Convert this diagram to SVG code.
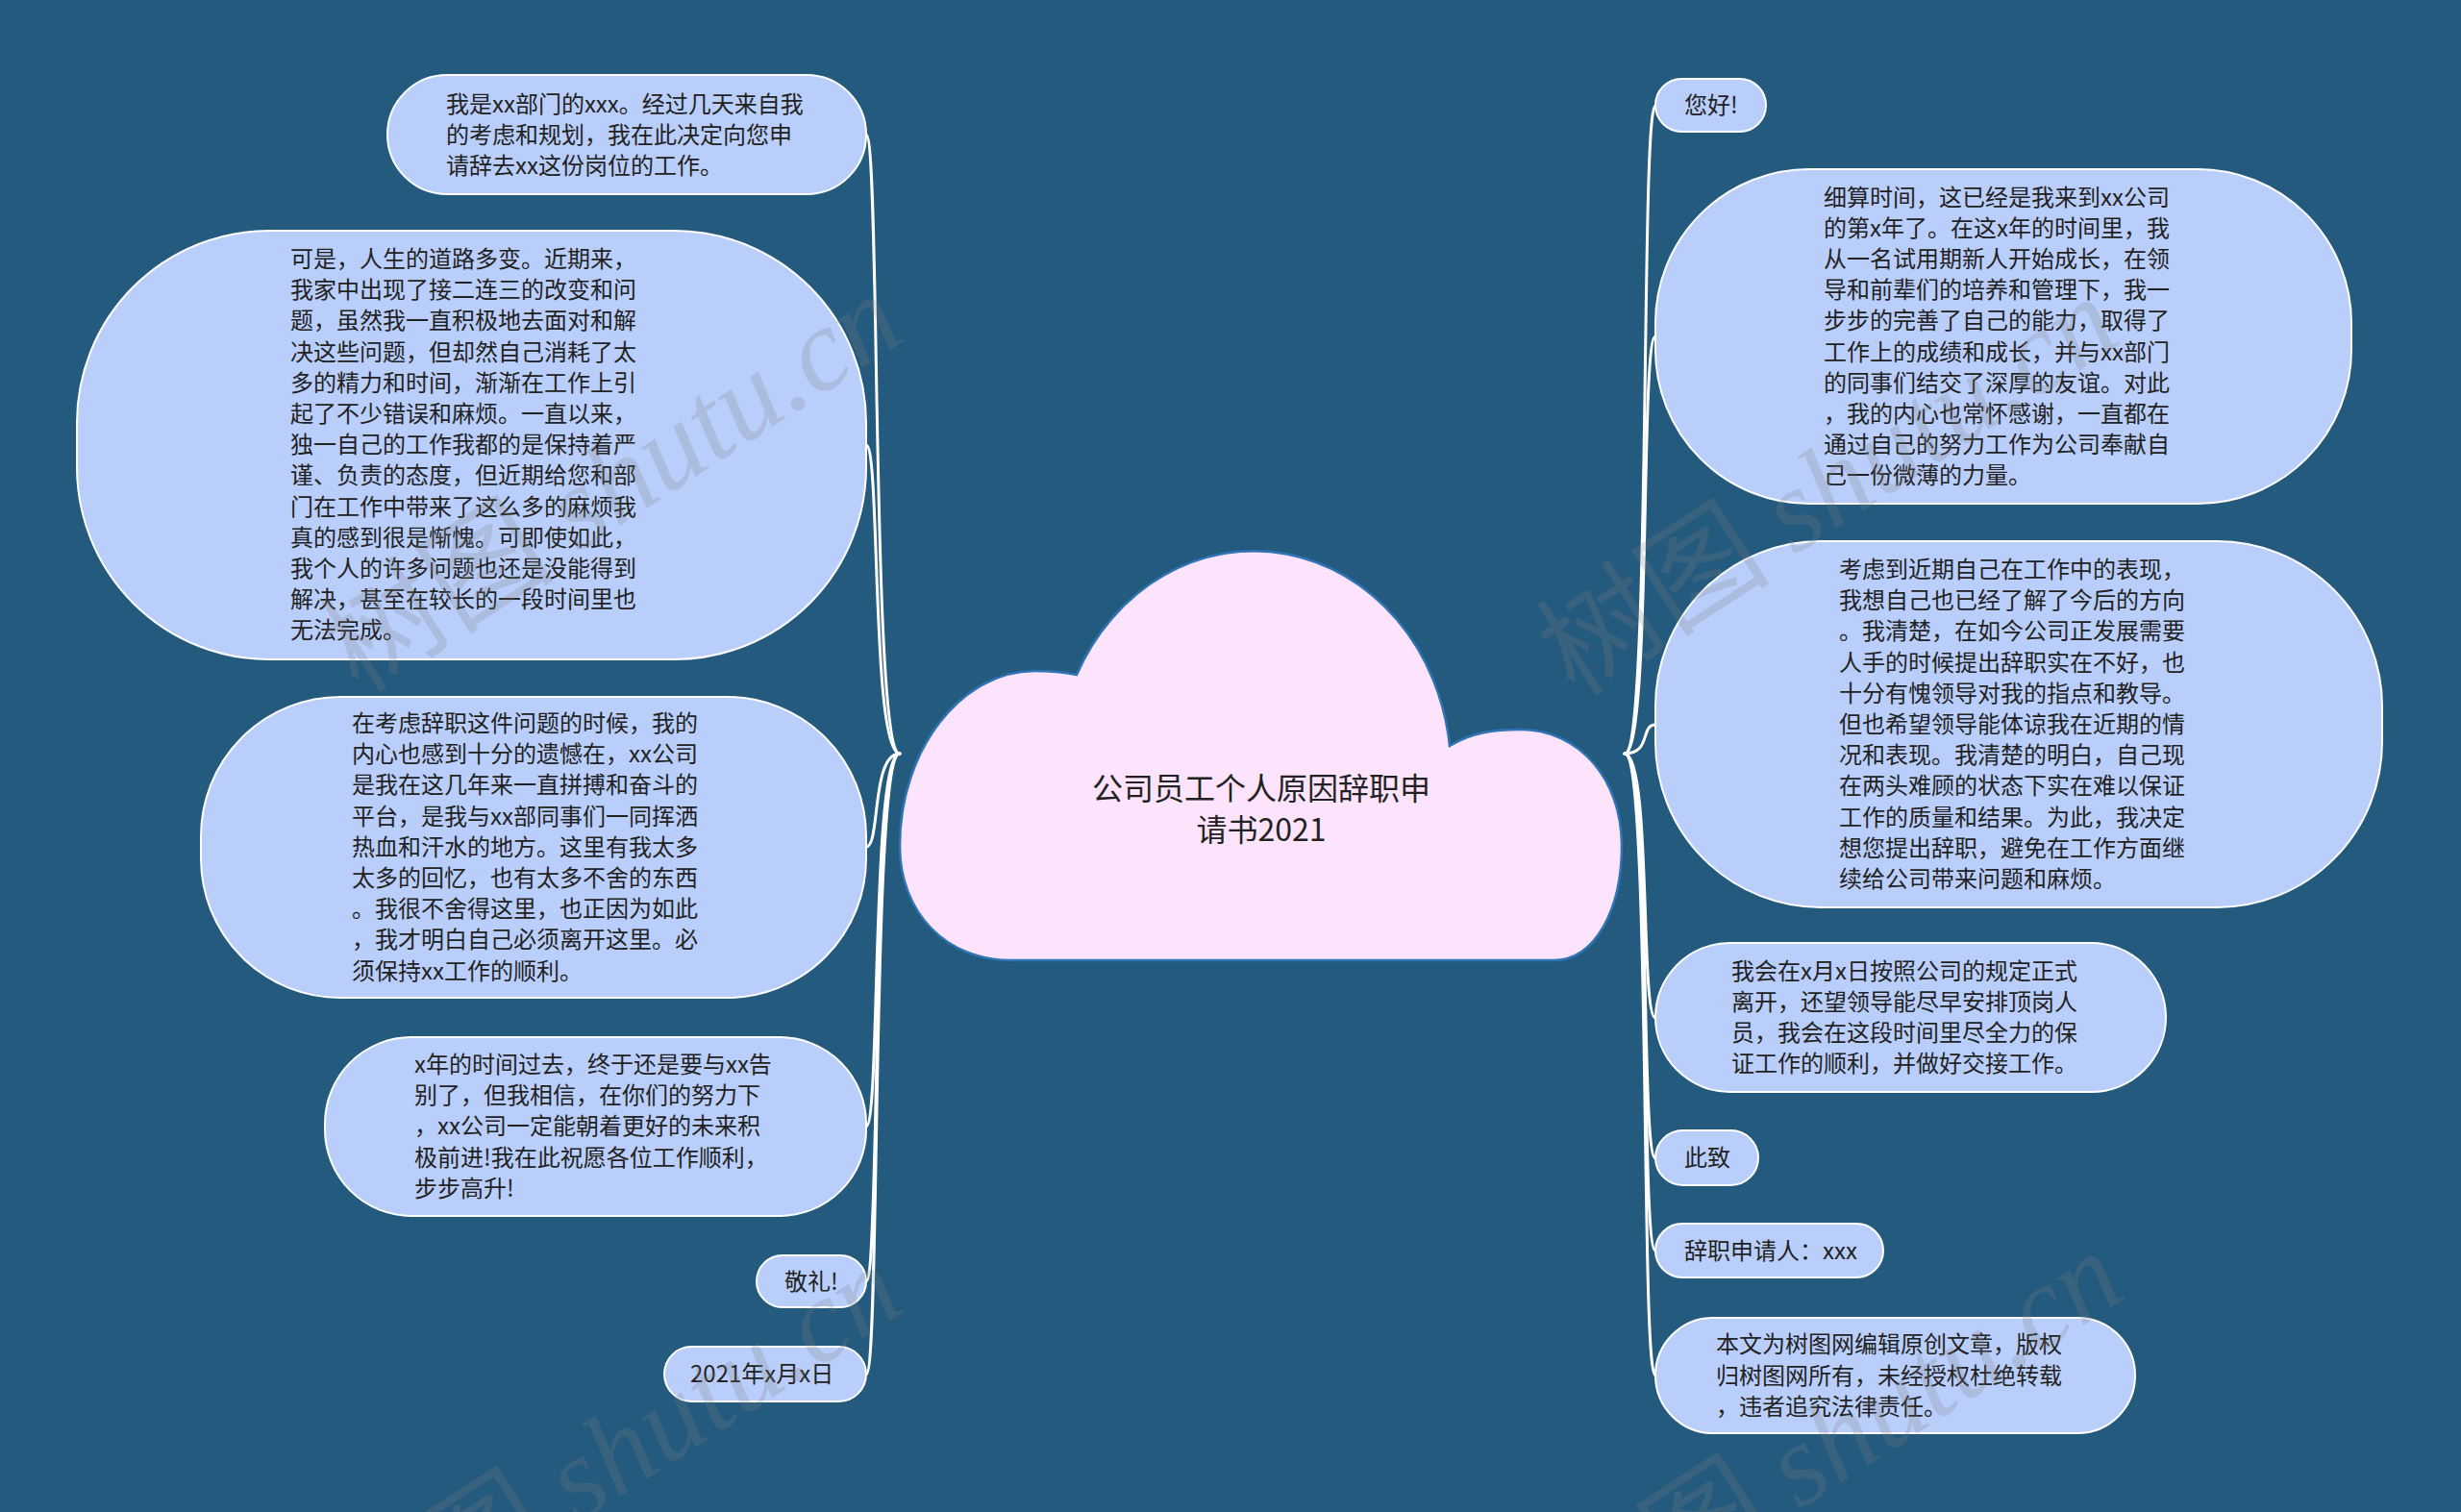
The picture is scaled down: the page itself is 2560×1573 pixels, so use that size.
<svg xmlns="http://www.w3.org/2000/svg" width="2560" height="1573" viewBox="0 0 2560 1573">
<style>
.bg{fill:#245a7d}
.node{fill:#b9cefa;stroke:#ffffff;stroke-width:2}
.t{font-family:"Noto Sans CJK SC","Liberation Sans",sans-serif;font-size:24px;fill:#222222}
.title{font-family:"Noto Sans CJK SC","Liberation Sans",sans-serif;font-size:32px;fill:#222222;text-anchor:middle}
.link{fill:none;stroke:#ffffff;stroke-width:3;stroke-linecap:round}
.wm{font-family:"Noto Sans CJK SC","Liberation Serif",serif;font-size:122px;fill:#808080;fill-opacity:0.22;text-anchor:end}
.wm tspan.l{font-family:"Liberation Serif",serif;font-style:italic}
</style>
<rect class="bg" x="0" y="0" width="2560" height="1573"/>

<g id="connectors">
<path class="link" d="M936,784 C906,784 916,140 901,140"/>
<path class="link" d="M936,784 C906,784 916,463 901,463"/>
<path class="link" d="M936,784 C906,784 916,881 901,881"/>
<path class="link" d="M936,784 C906,784 916,1172 901,1172"/>
<path class="link" d="M936,784 C906,784 916,1333 901,1333"/>
<path class="link" d="M936,784 C906,784 916,1430 901,1430"/>
<path class="link" d="M1690,784 C1718,784 1706,110 1722,110"/>
<path class="link" d="M1690,784 C1718,784 1706,350 1722,350"/>
<path class="link" d="M1690,784 C1718,784 1706,754 1722,754"/>
<path class="link" d="M1690,784 C1718,784 1706,1059 1722,1059"/>
<path class="link" d="M1690,784 C1718,784 1706,1205 1722,1205"/>
<path class="link" d="M1690,784 C1718,784 1706,1301 1722,1301"/>
<path class="link" d="M1690,784 C1718,784 1706,1431 1722,1431"/>
</g>

<g id="root">
<path d="M1051,999 C985,999 936,950 936,880 C936,780 1000,698 1076,698 C1095,698 1110,700 1120,702 A205 229 0 0 1 1508,776 C1530,762 1555,759 1582,759 C1642,759 1687,810 1687,880 C1687,945 1660,999 1616,999 Z" fill="#fde4fc" stroke="#2f74b5" stroke-width="2.5"/>
<text class="title" x="1312" y="832">公司员工个人原因辞职申</text>
<text class="title" x="1312" y="875">请书2021</text>
</g>

<g id="L1">
<rect class="node" x="403" y="78" width="498" height="124" rx="62" ry="62"/>
<text class="t" x="464"><tspan x="464" y="116.5">我是xx部门的xxx。经过几天来自我</tspan><tspan x="464" y="148.5">的考虑和规划，我在此决定向您申</tspan><tspan x="464" y="180.5">请辞去xx这份岗位的工作。</tspan></text>
</g>

<g id="L2">
<rect class="node" x="80" y="240" width="821" height="446" rx="200" ry="200"/>
<text class="t"><tspan x="302" y="278">可是，人生的道路多变。近期来，</tspan><tspan x="302" y="310.2">我家中出现了接二连三的改变和问</tspan><tspan x="302" y="342.4">题，虽然我一直积极地去面对和解</tspan><tspan x="302" y="374.6">决这些问题，但却然自己消耗了太</tspan><tspan x="302" y="406.8">多的精力和时间，渐渐在工作上引</tspan><tspan x="302" y="439">起了不少错误和麻烦。一直以来，</tspan><tspan x="302" y="471.2">独一自己的工作我都的是保持着严</tspan><tspan x="302" y="503.4">谨、负责的态度，但近期给您和部</tspan><tspan x="302" y="535.6">门在工作中带来了这么多的麻烦我</tspan><tspan x="302" y="567.8">真的感到很是惭愧。可即使如此，</tspan><tspan x="302" y="600">我个人的许多问题也还是没能得到</tspan><tspan x="302" y="632.2">解决，甚至在较长的一段时间里也</tspan><tspan x="302" y="664.4">无法完成。</tspan></text>
</g>

<g id="L3">
<rect class="node" x="209" y="725" width="692" height="313" rx="145" ry="145"/>
<text class="t"><tspan x="366" y="761">在考虑辞职这件问题的时候，我的</tspan><tspan x="366" y="793.2">内心也感到十分的遗憾在，xx公司</tspan><tspan x="366" y="825.4">是我在这几年来一直拼搏和奋斗的</tspan><tspan x="366" y="857.6">平台，是我与xx部同事们一同挥洒</tspan><tspan x="366" y="889.8">热血和汗水的地方。这里有我太多</tspan><tspan x="366" y="922">太多的回忆，也有太多不舍的东西</tspan><tspan x="366" y="954.2">。我很不舍得这里，也正因为如此</tspan><tspan x="366" y="986.4">，我才明白自己必须离开这里。必</tspan><tspan x="366" y="1018.6">须保持xx工作的顺利。</tspan></text>
</g>

<g id="L4">
<rect class="node" x="338" y="1079" width="563" height="186" rx="90" ry="90"/>
<text class="t"><tspan x="431" y="1116">x年的时间过去，终于还是要与xx告</tspan><tspan x="431" y="1148.2">别了，但我相信，在你们的努力下</tspan><tspan x="431" y="1180.4">，xx公司一定能朝着更好的未来积</tspan><tspan x="431" y="1212.6">极前进!我在此祝愿各位工作顺利，</tspan><tspan x="431" y="1244.8">步步高升!</tspan></text>
</g>

<g id="L5">
<rect class="node" x="787" y="1306" width="114" height="54" rx="27" ry="27"/>
<text class="t" x="816" y="1341.5">敬礼!</text>
</g>

<g id="L6">
<rect class="node" x="691" y="1401" width="210" height="57" rx="28.5" ry="28.5"/>
<text class="t" x="718" y="1438">2021年x月x日</text>
</g>

<g id="R1">
<rect class="node" x="1722" y="82" width="115" height="55" rx="27.5" ry="27.5"/>
<text class="t" x="1752" y="118">您好!</text>
</g>

<g id="R2">
<rect class="node" x="1722" y="176" width="724" height="348" rx="160" ry="160"/>
<text class="t"><tspan x="1897" y="213.5">细算时间，这已经是我来到xx公司</tspan><tspan x="1897" y="245.7">的第x年了。在这x年的时间里，我</tspan><tspan x="1897" y="277.9">从一名试用期新人开始成长，在领</tspan><tspan x="1897" y="310.1">导和前辈们的培养和管理下，我一</tspan><tspan x="1897" y="342.3">步步的完善了自己的能力，取得了</tspan><tspan x="1897" y="374.5">工作上的成绩和成长，并与xx部门</tspan><tspan x="1897" y="406.7">的同事们结交了深厚的友谊。对此</tspan><tspan x="1897" y="438.9">，我的内心也常怀感谢，一直都在</tspan><tspan x="1897" y="471.1">通过自己的努力工作为公司奉献自</tspan><tspan x="1897" y="503.3">己一份微薄的力量。</tspan></text>
</g>

<g id="R3">
<rect class="node" x="1722" y="563" width="756" height="381" rx="172" ry="172"/>
<text class="t"><tspan x="1913" y="601">考虑到近期自己在工作中的表现，</tspan><tspan x="1913" y="633.2">我想自己也已经了解了今后的方向</tspan><tspan x="1913" y="665.4">。我清楚，在如今公司正发展需要</tspan><tspan x="1913" y="697.6">人手的时候提出辞职实在不好，也</tspan><tspan x="1913" y="729.8">十分有愧领导对我的指点和教导。</tspan><tspan x="1913" y="762">但也希望领导能体谅我在近期的情</tspan><tspan x="1913" y="794.2">况和表现。我清楚的明白，自己现</tspan><tspan x="1913" y="826.4">在两头难顾的状态下实在难以保证</tspan><tspan x="1913" y="858.6">工作的质量和结果。为此，我决定</tspan><tspan x="1913" y="890.8">想您提出辞职，避免在工作方面继</tspan><tspan x="1913" y="923">续给公司带来问题和麻烦。</tspan></text>
</g>

<g id="R4">
<rect class="node" x="1722" y="981" width="531" height="155" rx="77.5" ry="77.5"/>
<text class="t"><tspan x="1801" y="1018.5">我会在x月x日按照公司的规定正式</tspan><tspan x="1801" y="1050.7">离开，还望领导能尽早安排顶岗人</tspan><tspan x="1801" y="1082.9">员，我会在这段时间里尽全力的保</tspan><tspan x="1801" y="1115.1">证工作的顺利，并做好交接工作。</tspan></text>
</g>

<g id="R5">
<rect class="node" x="1722" y="1176" width="107" height="57" rx="28.5" ry="28.5"/>
<text class="t" x="1752" y="1213">此致</text>
</g>

<g id="R6">
<rect class="node" x="1722" y="1273" width="237" height="56" rx="28" ry="28"/>
<text class="t" x="1752" y="1309.5">辞职申请人：xxx</text>
</g>

<g id="R7">
<rect class="node" x="1722" y="1371" width="499" height="120" rx="60" ry="60"/>
<text class="t"><tspan x="1785" y="1407.3">本文为树图网编辑原创文章，版权</tspan><tspan x="1785" y="1439.5">归树图网所有，未经授权杜绝转载</tspan><tspan x="1785" y="1471.7">，违者追究法律责任。</tspan></text>
</g>

<g id="watermarks">
<text class="wm" transform="translate(945,352) rotate(-33)">树图 <tspan class="l">shutu.cn</tspan></text>
<text class="wm" transform="translate(2210,355) rotate(-33)">树图 <tspan class="l">shutu.cn</tspan></text>
<text class="wm" transform="translate(945,1362) rotate(-33)">树图 <tspan class="l">shutu.cn</tspan></text>
<text class="wm" transform="translate(2215,1348) rotate(-33)">树图 <tspan class="l">shutu.cn</tspan></text>
</g>
</svg>
